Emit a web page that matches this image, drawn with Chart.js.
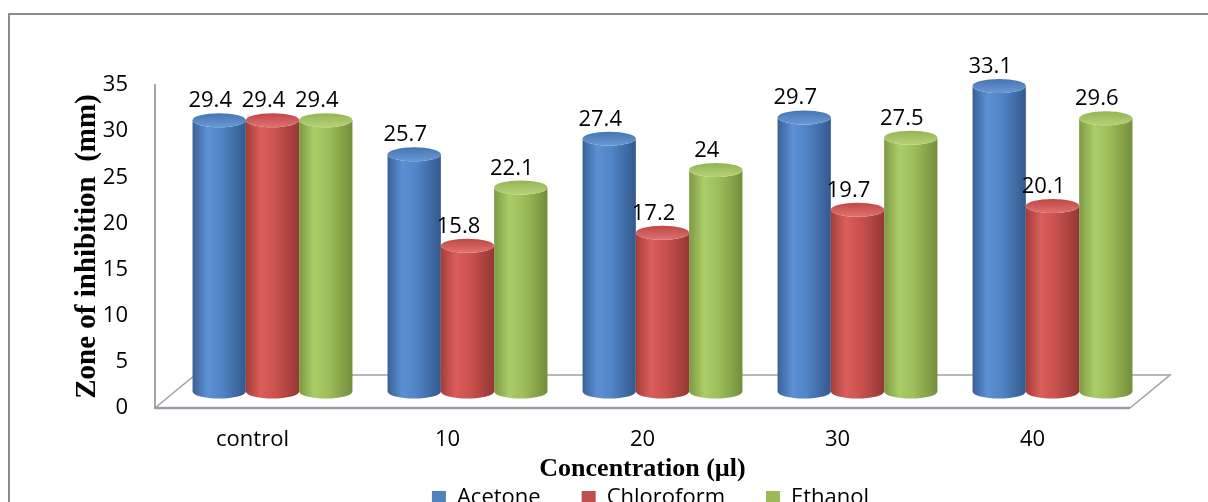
<!DOCTYPE html>
<html>
<head>
<meta charset="utf-8">
<script src="https://cdn.jsdelivr.net/npm/chart.js@4.4.1/dist/chart.umd.min.js"></script>
<style>
  html, body { margin: 0; padding: 0; background: #fff; overflow: hidden; }
  #c { display: block; }
</style>
</head>
<body>
<canvas id="c" width="1208" height="502"></canvas>
<script>
// Zone of inhibition (mm) per solvent extract at each concentration
const categories = ['control', '10', '20', '30', '40'];
const acetone    = [29.4, 25.7, 27.4, 29.7, 33.1];
const chloroform = [29.4, 15.8, 17.2, 19.7, 20.1];
const ethanol    = [29.4, 22.1, 24, 27.5, 29.6];
const yTicks     = [0, 5, 10, 15, 20, 25, 30, 35];

// Pseudo-3D depth of the floor (pixels); columns stand at mid-depth
const DEPTH_X = 40, DEPTH_Y = -33;
const CAP_RY = 7;

const palettes = {
  Acetone:    { side: [[0, '#3a6196'], [0.28, '#5c90d4'], [0.55, '#5084c6'], [1, '#34598c']], top: '#4575b3', rim: '#6b98d4' },
  Chloroform: { side: [[0, '#a43d3a'], [0.28, '#da5e5b'], [0.55, '#ca524f'], [1, '#953734']], top: '#bf4744', rim: '#de7270' },
  Ethanol:    { side: [[0, '#7d9944'], [0.28, '#abcd67'], [0.55, '#9ebe5b'], [1, '#738e3b']], top: '#93b450', rim: '#b6d27a' }
};

function drawCylinder(ctx, cx, topY, botY, w, pal) {
  const rx = w / 2, l = cx - rx, r = cx + rx;
  const g = ctx.createLinearGradient(l, 0, r, 0);
  pal.side.forEach(([o, c]) => g.addColorStop(o, c));
  ctx.beginPath();
  ctx.moveTo(l, topY);
  ctx.lineTo(l, botY);
  ctx.ellipse(cx, botY, rx, CAP_RY, 0, Math.PI, 0, true);
  ctx.lineTo(r, topY);
  ctx.ellipse(cx, topY, rx, CAP_RY, 0, 0, Math.PI, false);
  ctx.closePath();
  ctx.fillStyle = g;
  ctx.fill();
  // top cap
  const tg = ctx.createLinearGradient(0, topY - CAP_RY, 0, topY + CAP_RY);
  tg.addColorStop(0, pal.top);
  tg.addColorStop(1, pal.rim);
  ctx.beginPath();
  ctx.ellipse(cx, topY, rx, CAP_RY, 0, 0, Math.PI * 2);
  ctx.fillStyle = tg;
  ctx.fill();
}

const cylinderPlugin = {
  id: 'cylinders',
  afterLayout(chart) {
    // legend row sits just under the axis title, nudged toward the floor's centre
    const lg = chart.legend;
    lg.top -= 39;
    lg.bottom = lg.top + 70;
    lg.height = 70;
    lg.left += 8; lg.right += 8;
  },
  beforeDraw(chart) {
    const ctx = chart.ctx;
    ctx.save();
    ctx.strokeStyle = '#8c8c8c';
    ctx.lineWidth = 2;
    ctx.beginPath();
    ctx.moveTo(9, chart.height + 5);
    ctx.lineTo(9, 14);
    ctx.lineTo(chart.width + 5, 14);
    ctx.stroke();
    ctx.restore();
  },
  beforeDatasetsDraw(chart) {
    const ctx = chart.ctx, a = chart.chartArea;
    const y0 = chart.scales.y.getPixelForValue(0);
    ctx.save();
    ctx.strokeStyle = '#a3a3a3';
    ctx.lineWidth = 1.6;
    ctx.beginPath();
    ctx.moveTo(a.left, y0);
    ctx.lineTo(a.left + DEPTH_X, y0 + DEPTH_Y);
    ctx.lineTo(a.right + DEPTH_X, y0 + DEPTH_Y);
    ctx.lineTo(a.right, y0);
    ctx.stroke();
    ctx.strokeStyle = '#9c9ca8';
    ctx.lineWidth = 2.4;
    ctx.beginPath();
    ctx.moveTo(a.left, y0);
    ctx.lineTo(a.right, y0);
    ctx.stroke();
    ctx.restore();
  },
  beforeDatasetDraw() { return false; },
  afterDatasetsDraw(chart) {
    const ctx = chart.ctx;
    const items = [];
    chart.data.datasets.forEach((ds, di) => {
      const meta = chart.getDatasetMeta(di);
      meta.data.forEach((bar, i) => {
        items.push({ bar, value: ds.data[i], pal: palettes[ds.label] });
      });
    });
    items.sort((p, q) => p.bar.x - q.bar.x);
    ctx.save();
    items.forEach(({ bar, pal }) => {
      const cx = bar.x + DEPTH_X / 2;
      drawCylinder(ctx, cx, bar.y + DEPTH_Y / 2, bar.base + DEPTH_Y / 2, bar.width, pal);
    });
    ctx.fillStyle = '#000';
    ctx.font = '22px "Open Sans"';
    ctx.textAlign = 'center';
    ctx.textBaseline = 'alphabetic';
    items.forEach(({ bar, value }) => {
      ctx.fillText(String(value), bar.x + DEPTH_X / 2 - 9, bar.y + DEPTH_Y / 2 - 13);
    });
    ctx.restore();
  }
};

const tickFont = { family: 'Open Sans', size: 22 };

new Chart(document.getElementById('c'), {
  type: 'bar',
  data: {
    labels: categories,
    datasets: [
      { label: 'Acetone',    data: acetone,    backgroundColor: '#4f81bd', borderWidth: 0 },
      { label: 'Chloroform', data: chloroform, backgroundColor: '#c0504d', borderWidth: 0 },
      { label: 'Ethanol',    data: ethanol,    backgroundColor: '#9bbb59', borderWidth: 0 }
    ]
  },
  options: {
    responsive: false,
    animation: false,
    events: [],
    layout: { padding: { top: 85, left: 0, right: 78, bottom: 0 } },
    datasets: { bar: { barPercentage: 1, categoryPercentage: 0.82 } },
    plugins: {
      tooltip: { enabled: false },
      legend: {
        position: 'bottom',
        fullSize: false,
        maxHeight: 17,
        labels: { boxWidth: 14, boxHeight: 14, padding: 41, color: '#000', font: tickFont }
      }
    },
    scales: {
      x: {
        grid: { display: false, drawTicks: false },
        border: { display: false },
        ticks: { padding: 19, color: '#000', font: tickFont },
        title: {
          display: true, text: 'Concentration (µl)', color: '#000',
          font: { family: 'Liberation Serif', size: 26, weight: 'bold' },
          padding: { top: 0, bottom: 0 }
        },
        afterFit(s) { s.height = 77; }
      },
      y: {
        min: 0, max: 35,
        afterBuildTicks(s) { s.ticks = yTicks.map(v => ({ value: v })); },
        grid: { display: false, drawTicks: false },
        border: { display: true, color: '#a6a6a6', width: 2 },
        ticks: { padding: 27, color: '#000', font: tickFont },
        title: {
          display: true, text: 'Zone of inhibition  (mm)', color: '#000',
          font: { family: 'Liberation Serif', size: 29, weight: 'bold' },
          padding: { top: 70, bottom: 0 }
        },
        afterFit(s) { s.width = 155; }
      }
    }
  },
  plugins: [cylinderPlugin]
});
</script>
</body>
</html>
